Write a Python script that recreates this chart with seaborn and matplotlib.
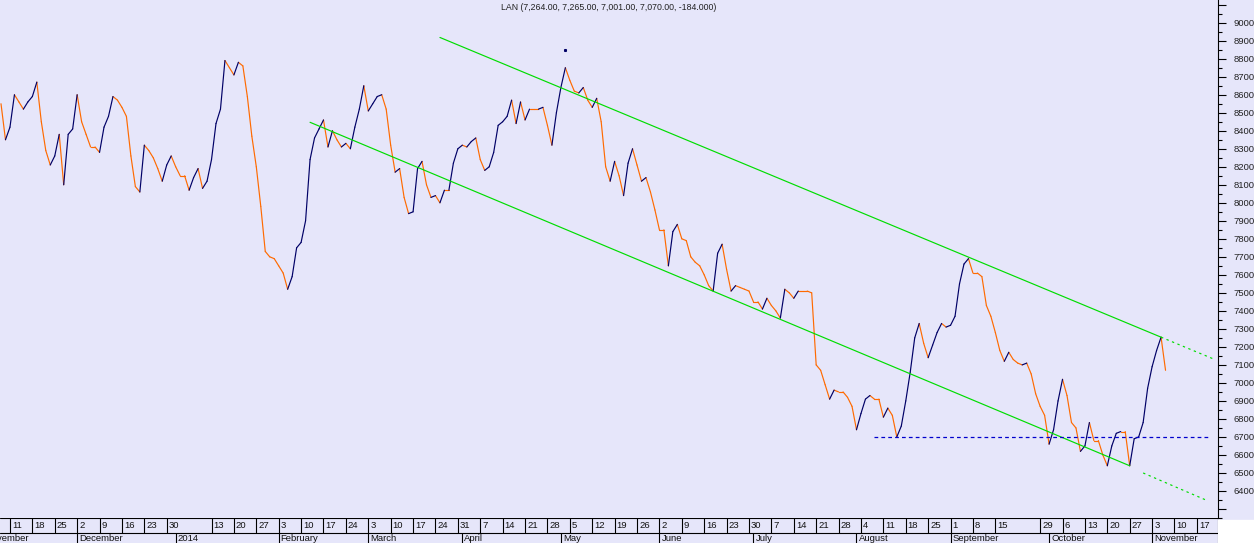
import numpy as np
import pandas as pd
import matplotlib
matplotlib.use("Agg")
import matplotlib.pyplot as plt
import seaborn as sns

# daily closes, LAN, from 7 Nov 2013 (business days)
closes = [
    8550, 8350, 8420, 8600, 8560, 8520, 8560, 8590, 8670, 8450,
    8290, 8210, 8260, 8380, 8100, 8380, 8410, 8600, 8450, 8380,
    8310, 8310, 8280, 8420, 8480, 8590, 8570, 8530, 8480, 8260,
    8090, 8060, 8320, 8290, 8250, 8190, 8120, 8210, 8260, 8200,
    8150, 8150, 8070, 8140, 8190, 8080, 8120, 8240, 8440, 8520,
    8790, 8750, 8710, 8780, 8760, 8590, 8370, 8200, 7980, 7730,
    7700, 7690, 7650, 7610, 7520, 7590, 7750, 7780, 7900, 8240,
    8360, 8410, 8460, 8310, 8400, 8350, 8310, 8330, 8300, 8420,
    8520, 8650, 8510, 8550, 8590, 8600, 8520, 8320, 8170, 8190,
    8030, 7940, 7950, 8190, 8230, 8100, 8030, 8040, 8000, 8070,
    8070, 8220, 8300, 8320, 8310, 8340, 8360, 8240, 8180, 8200,
    8280, 8430, 8450, 8480, 8570, 8440, 8560, 8460, 8520, 8520,
    8520, 8530, 8430, 8320, 8500, 8640, 8750, 8680, 8620, 8610,
    8640, 8570, 8530, 8580, 8450, 8200, 8120, 8230, 8150, 8040,
    8220, 8300, 8210, 8120, 8140, 8060, 7960, 7850, 7850, 7650,
    7840, 7880, 7800, 7790, 7700, 7670, 7650, 7600, 7540, 7510,
    7720, 7770, 7630, 7510, 7540, 7530, 7520, 7510, 7450, 7450,
    7410, 7470, 7430, 7400, 7360, 7520, 7500, 7470, 7510, 7510,
    7510, 7500, 7100, 7070, 6990, 6910, 6960, 6950, 6950, 6920,
    6870, 6740, 6830, 6910, 6930, 6910, 6910, 6810, 6860, 6820,
    6700, 6760, 6900, 7060, 7250, 7330, 7220, 7140, 7210, 7280,
    7330, 7310, 7320, 7370, 7550, 7660, 7690, 7610, 7610, 7590,
    7430, 7370, 7280, 7180, 7120, 7170, 7130, 7110, 7100, 7110,
    7050, 6940, 6870, 6820, 6660, 6740, 6900, 7020, 6930, 6780,
    6750, 6620, 6650, 6780, 6680, 6680, 6600, 6540, 6650, 6720,
    6730, 6730, 6540, 6690, 6700, 6780, 6970, 7090, 7180, 7254,
    7070,
]
start_date = "2013-11-07"
end_date = "2014-11-28"

title = "LAN (7,264.00, 7,265.00, 7,001.00, 7,070.00, -184.000)"

# trend channel (date, price)
upper_dates = ["2014-03-25", "2014-11-05"]
upper_vals = [8918, 7254]
upper_ext_dates = ["2014-11-05", "2014-11-21"]
upper_ext_vals = [7254, 7130]
lower_dates = ["2014-02-12", "2014-10-27"]
lower_vals = [8447, 6540]
lower_ext_dates = ["2014-10-30", "2014-11-19"]
lower_ext_vals = [6500, 6350]
support_dates = ["2014-08-07", "2014-11-20"]
support_val = 6700
marker_date = "2014-05-02"
marker_val = 8850

y_ticks = list(range(6300, 9101, 100))
y_labels = [str(t) if 6400 <= t <= 9000 else "" for t in y_ticks]
skip_weeks = ["2014-01-06", "2014-09-22"]

NAVY = "#000066"
ORANGE = "#FF6A00"
GREEN = "#00DD00"
BG = "#E6E6FA"

sns.set_style("white")
plt.rcParams["font.family"] = ["Liberation Sans", "DejaVu Sans"]


def pos(d):
    # business days from the first close (negative before it)
    return int(np.busday_count(start_date, pd.Timestamp(d).strftime("%Y-%m-%d")))


n = len(closes)
rows = []
for i in range(n - 1):
    d = "up" if closes[i + 1] > closes[i] else "down"
    rows.append({"seg": i, "x": i, "v": closes[i], "dir": d})
    rows.append({"seg": i, "x": i + 1, "v": closes[i + 1], "dir": d})
seg_df = pd.DataFrame(rows)

W, H = 1254, 543
fig = plt.figure(figsize=(W / 100, H / 100), dpi=100, facecolor=BG)
ax = fig.add_axes([0, 25 / H, 1218 / W, 518 / H])
ax.set_facecolor(BG)

sns.lineplot(data=seg_df, x="x", y="v", hue="dir", units="seg", estimator=None,
             palette={"up": NAVY, "down": ORANGE}, legend=False, lw=0.85,
             sort=False, ax=ax)


def line(dts, vals, **kw):
    ax.plot([pos(d) for d in dts], vals, **kw)


line(upper_dates, upper_vals, color=GREEN, lw=0.85)
line(lower_dates, lower_vals, color=GREEN, lw=0.85)
line(upper_ext_dates, upper_ext_vals, color=GREEN, lw=0.85, ls=(0, (2, 3)))
line(lower_ext_dates, lower_ext_vals, color=GREEN, lw=0.85, ls=(0, (2, 3)))
line(support_dates, [support_val] * 2, color="#0000CC", lw=0.9, ls=(0, (3, 2.5)))
ax.plot([pos(marker_date)], [marker_val], marker="s", ms=1.2, color=NAVY, ls="none")

xmax = (1218 - 1) / 4.479
ax.set_xlim(-1 / 4.479, xmax)
ax.set_ylim(6288, 9126)
ax.set_xticks([])
ax.set_xlabel("")
ax.set_ylabel("")
ax.yaxis.tick_right()
ax.set_yticks(y_ticks)
ax.set_yticklabels(y_labels)
ax.set_yticks([t + 50 for t in y_ticks[:-1]] + [6250], minor=True)
ax.tick_params(axis="y", which="major", direction="out", length=6, width=0.8,
               color="black", labelsize=6.8, pad=5, labelcolor="#222222")
ax.tick_params(axis="y", which="minor", direction="out", length=3, width=0.8,
               color="black")
for s in ["top", "left", "bottom"]:
    ax.spines[s].set_visible(False)
ax.spines["right"].set_color("black")
ax.spines["right"].set_linewidth(0.8)

ax.text(0.5, 1 - 7 / 518, title, transform=ax.transAxes, ha="center",
        va="center", fontsize=6.3, color="#222222")

# date strip: week row on top, month row below
sax = fig.add_axes([0, 0, 1218 / W, 25 / H])
sax.set_facecolor(BG)
sax.set_xlim(ax.get_xlim())
sax.set_ylim(0, 25)
sax.axis("off")
sax.axhline(24.6, color="black", lw=0.8)
sax.axhline(10, color="black", lw=0.8)
sax.axvline(xmax, color="black", lw=0.8)

days = pd.bdate_range(start_date, end_date)
mondays = [d for d in days if d.weekday() == 0 and d.strftime("%Y-%m-%d") not in skip_weeks]
for d in mondays:
    x = pos(d)
    if x > xmax:
        continue
    sax.vlines(x, 10, 25, color="black", lw=0.8)
    sax.text(x + 0.45, 17.3, str(d.day), fontsize=6.8, va="center", ha="left",
             color="#111111")

# month row; the first label starts before the left edge, as in the source
months = pd.date_range("2013-11-01", "2014-11-01", freq="MS")
for m in months:
    first = pd.bdate_range(m, periods=1)[0]
    x = pos(first)
    label = str(m.year) if m.month == 1 else m.strftime("%B")
    sax.vlines(x, 0, 10, color="black", lw=0.8)
    sax.text(x + 0.45, 4.3, label, fontsize=6.8, va="center", ha="left",
             color="#111111", clip_on=False)

# white corner bottom-right
fig.patches.append(plt.Rectangle((1218 / W, 0), 1 - 1218 / W, 23 / H,
                                 transform=fig.transFigure, color="white",
                                 zorder=-1))

fig.savefig("out.png", dpi=100, facecolor=BG)
